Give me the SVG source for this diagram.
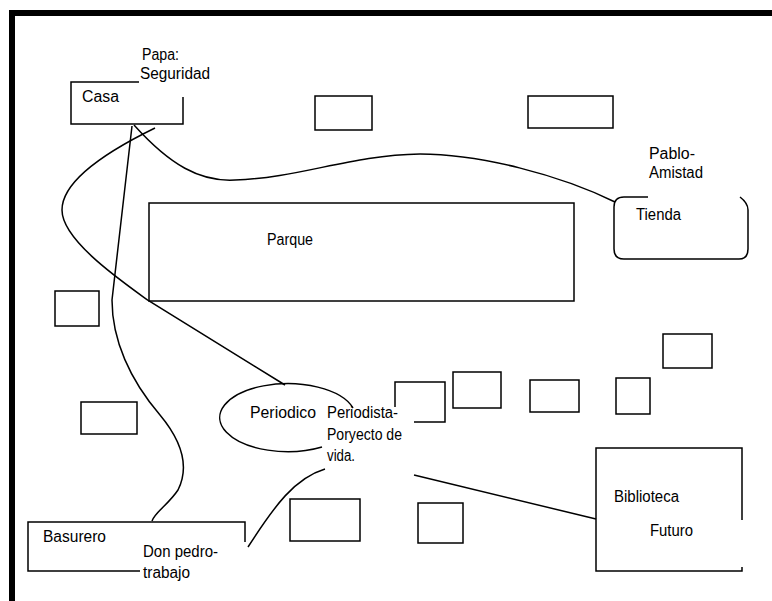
<svg xmlns="http://www.w3.org/2000/svg" width="772" height="601" viewBox="0 0 772 601">
<style>
.s{fill:none;stroke:#000;stroke-width:1.5}
.t{font-family:"Liberation Sans",Arial,sans-serif;font-size:16px;fill:#000}
</style>
<rect x="0" y="0" width="772" height="601" fill="#fff"/>
<g id="frame">
<rect x="9" y="10" width="763" height="6" fill="#000"/>
<rect x="9" y="10" width="6" height="591" fill="#000"/>
</g>
<g id="connectors" class="s">
<path d="M134,125 C170,165 200,182 235,180 C300,178 350,155 420,154 C480,154 560,175 615,202"/>
<path d="M155,128 C110,150 62,180 62,210 C62,240 120,280 149,301 L285,385"/>
<path d="M132,126 L112,300 C112,340 130,380 160,415 C185,445 188,470 178,490 C168,505 155,512 152,521"/>
<path d="M325,469 C295,478 275,505 248,547"/>
<path d="M414,475 L596,519"/>
</g>
<g id="casa">
<path class="s" d="M139,82 L71,82 L71,124 L183,124 L183,97"/>
<text class="t" x="82" y="102" textLength="37" lengthAdjust="spacingAndGlyphs">Casa</text>
<text class="t" x="142" y="60" textLength="37" lengthAdjust="spacingAndGlyphs">Papa:</text>
<text class="t" x="140" y="79" textLength="70" lengthAdjust="spacingAndGlyphs">Seguridad</text>
</g>
<g id="box1"><rect class="s" x="315" y="96" width="57" height="34"/></g>
<g id="box2"><rect class="s" x="528" y="96" width="85" height="32"/></g>
<g id="tienda">
<path class="s" d="M648,197 L624,197 Q614,197 614,207 L614,249 Q614,259 624,259 L739,259 Q748,259 748,249 L748,210 Q748,203 740,197"/>
<text class="t" x="636" y="220" textLength="45" lengthAdjust="spacingAndGlyphs">Tienda</text>
<text class="t" x="649" y="159" textLength="46" lengthAdjust="spacingAndGlyphs">Pablo-</text>
<text class="t" x="649" y="178" textLength="54" lengthAdjust="spacingAndGlyphs">Amistad</text>
</g>
<g id="parque">
<rect class="s" x="149" y="203" width="425" height="98"/>
<text class="t" x="267" y="245" textLength="46" lengthAdjust="spacingAndGlyphs">Parque</text>
</g>
<g id="box3"><rect class="s" x="55" y="291" width="44" height="35"/></g>
<g id="box4"><rect class="s" x="81" y="402" width="56" height="32"/></g>
<g id="periodico">
<path class="s" d="M353,408 A68,34 0 1 0 322,447"/>
<text class="t" x="250" y="418" textLength="66" lengthAdjust="spacingAndGlyphs">Periodico</text>
<text class="t" x="327" y="418" textLength="71" lengthAdjust="spacingAndGlyphs">Periodista-</text>
<text class="t" x="327" y="440" textLength="75" lengthAdjust="spacingAndGlyphs">Poryecto de</text>
<text class="t" x="327" y="461" textLength="28" lengthAdjust="spacingAndGlyphs">vida.</text>
</g>
<g id="box5"><path class="s" d="M395,407 L395,382 L445,382 L445,422 L414,422"/></g>
<g id="box6"><rect class="s" x="453" y="372" width="48" height="36"/></g>
<g id="box7"><rect class="s" x="530" y="380" width="49" height="32"/></g>
<g id="box8"><rect class="s" x="616" y="378" width="34" height="36"/></g>
<g id="box9"><rect class="s" x="663" y="334" width="49" height="34"/></g>
<g id="box10"><rect class="s" x="290" y="499" width="70" height="42"/></g>
<g id="box11"><rect class="s" x="418" y="503" width="45" height="40"/></g>
<g id="biblioteca">
<path class="s" d="M742,520 L742,448 L596,448 L596,571 L742,571 L742,567"/>
<text class="t" x="614" y="502" textLength="65" lengthAdjust="spacingAndGlyphs">Biblioteca</text>
<text class="t" x="650" y="536" textLength="43" lengthAdjust="spacingAndGlyphs">Futuro</text>
</g>
<g id="basurero">
<path class="s" d="M140,571 L28,571 L28,522 L245,522 L245,542"/>
<text class="t" x="43" y="542" textLength="63" lengthAdjust="spacingAndGlyphs">Basurero</text>
<text class="t" x="143" y="557" textLength="75" lengthAdjust="spacingAndGlyphs">Don pedro-</text>
<text class="t" x="143" y="578" textLength="47" lengthAdjust="spacingAndGlyphs">trabajo</text>
</g>
</svg>
